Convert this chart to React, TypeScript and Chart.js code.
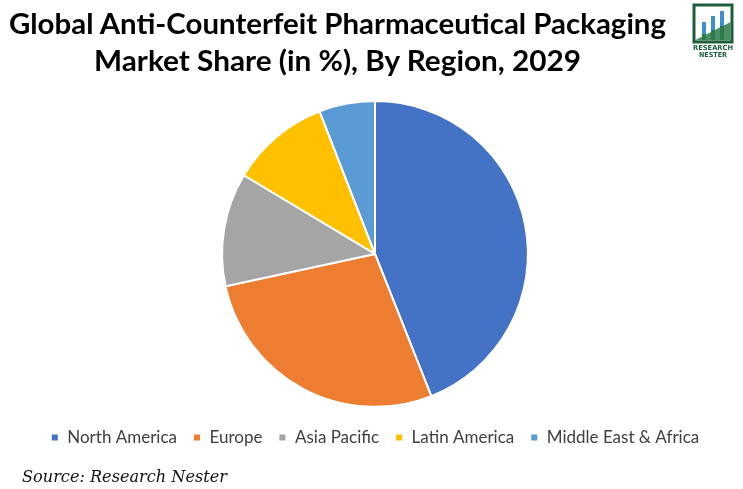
import React, { useEffect, useRef } from "react";
import { Chart, registerables } from "chart.js";

Chart.register(...registerables);

const categories = ["North America", "Europe", "Asia Pacific", "Latin America", "Middle East & Africa"];
const shares = [44, 27.6, 12, 10.5, 5.9];
const colors = ["#4472C4", "#ED7D31", "#A5A5A5", "#FFC000", "#5B9BD5"];
const titleLines = ["Global Anti-Counterfeit Pharmaceutical Packaging", "Market Share (in %), By Region, 2029"];
const sourceText = "Source: Research Nester";

export default function App() {
  const canvasRef = useRef<HTMLCanvasElement | null>(null);

  useEffect(() => {
    if (!canvasRef.current) return;
    const chart = new Chart(canvasRef.current, {
      type: "pie",
      data: {
        labels: categories,
        datasets: [
          {
            data: shares,
            backgroundColor: colors,
            borderColor: "#ffffff",
            borderWidth: 2,
            hoverBorderWidth: 2,
          },
        ],
      },
      options: {
        animation: false,
        responsive: true,
        maintainAspectRatio: false,
        layout: { padding: { top: 100, bottom: 33, left: 7, right: 0 } },
        plugins: {
          title: { display: false },
          tooltip: { enabled: false },
          legend: {
            display: true,
            position: "bottom",
            title: { display: true, text: "", font: { size: 1 }, padding: { top: 4, bottom: 0 } },
            labels: {
              boxWidth: 8,
              boxHeight: 8,
              padding: 16,
              color: "#404040",
              font: { family: "Lato", size: 17 },
            },
          },
        },
      },
    });
    return () => chart.destroy();
  }, []);

  return (
    <div style={{ position: "fixed", left: 0, top: 0, width: 743, height: 489, background: "#ffffff", overflow: "hidden" }}>
      <div style={{ position: "absolute", left: 0, top: 0, width: 743, height: 489 }}>
        <canvas ref={canvasRef} />
      </div>
      <svg width={743} height={489} style={{ position: "absolute", left: 0, top: 0, pointerEvents: "none" }}>
        <text x={337.5} y={34} textAnchor="middle" textLength={657} lengthAdjust="spacingAndGlyphs"
          style={{ fontFamily: "Lato", fontWeight: 700, fontSize: 28, fill: "#000" }}>{titleLines[0]}</text>
        <text x={337.5} y={71} textAnchor="middle" textLength={487} lengthAdjust="spacingAndGlyphs"
          style={{ fontFamily: "Lato", fontWeight: 700, fontSize: 28, fill: "#000" }}>{titleLines[1]}</text>
        <g>
          <rect x={694} y={5} width={38} height={37} fill="none" stroke="#1f5e3c" strokeWidth={3} />
          <polygon points="695.5,40 730.5,22 730.5,40.5 695.5,40.5" fill="#2b7a4b" opacity={0.85} />
          <rect x={702} y={22} width={4} height={18} fill="#3b8fd6" />
          <rect x={711} y={16} width={4} height={24} fill="#3b8fd6" />
          <rect x={720} y={11} width={4} height={29} fill="#3b8fd6" />
          <rect x={702} y={34} width={4} height={6} fill="#2b7a4b" />
          <rect x={711} y={30} width={4} height={10} fill="#2b7a4b" />
          <rect x={720} y={26} width={4} height={14} fill="#2b7a4b" />
          <text x={713} y={50} textAnchor="middle" textLength={40} lengthAdjust="spacingAndGlyphs"
            style={{ fontFamily: "DejaVu Sans", fontWeight: 700, fontSize: 7, fill: "#1f5e3c" }}>RESEARCH</text>
          <text x={713} y={57} textAnchor="middle" textLength={28} lengthAdjust="spacingAndGlyphs"
            style={{ fontFamily: "DejaVu Sans", fontWeight: 700, fontSize: 7, fill: "#1f5e3c" }}>NESTER</text>
        </g>
        <text x={22} y={482} textLength={205} lengthAdjust="spacingAndGlyphs"
          style={{ fontFamily: "DejaVu Serif", fontStyle: "italic", fontSize: 16, fill: "#111" }}>{sourceText}</text>
      </svg>
    </div>
  );
}
